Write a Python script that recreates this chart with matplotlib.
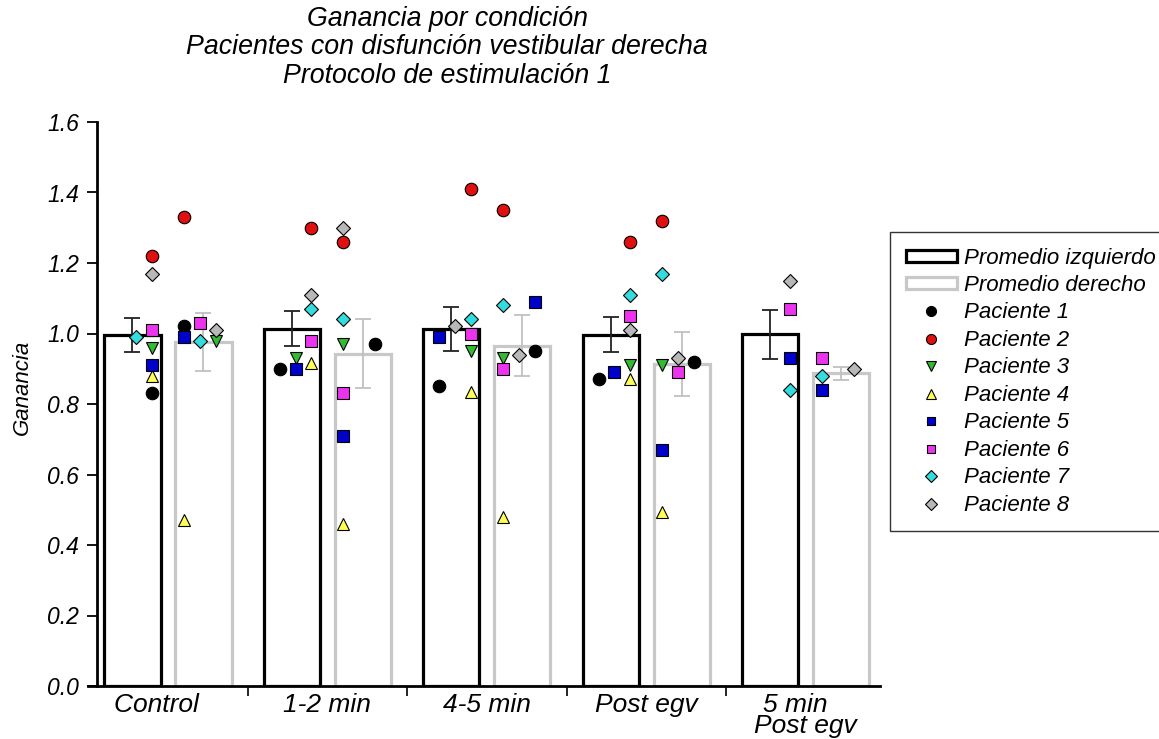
import numpy as np
import matplotlib.pyplot as plt
from matplotlib.patches import Patch
from matplotlib.lines import Line2D

plt.rcParams['font.family'] = ['Liberation Sans', 'DejaVu Sans']
plt.rcParams['font.style'] = 'italic'

nan = np.nan

# trailing spaces keep the labels slightly left of the group centre, as in the original
condiciones = ['Control   ', '1-2 min', '4-5 min', 'Post egv', '5 min   \nPost egv']
pacientes = ['Paciente 1', 'Paciente 2', 'Paciente 3', 'Paciente 4',
             'Paciente 5', 'Paciente 6', 'Paciente 7', 'Paciente 8']

# ganancia de cada paciente (filas) en cada condicion (columnas)
gan_izq = [
    [0.83, 0.90, 0.85, 0.87, nan],
    [1.22, 1.30, 1.41, 1.26, nan],
    [0.96, 0.93, 0.95, 0.91, nan],
    [0.88, 0.915, 0.835, 0.87, nan],
    [0.91, 0.90, 0.99, 0.89, 0.93],
    [1.01, 0.98, 1.00, 1.05, 1.07],
    [0.99, 1.07, 1.04, 1.11, 0.84],
    [1.17, 1.11, 1.02, 1.01, 1.15],
]
gan_der = [
    [1.02, 0.97, 0.95, 0.92, nan],
    [1.33, 1.26, 1.35, 1.32, nan],
    [0.98, 0.97, 0.93, 0.91, nan],
    [0.47, 0.46, 0.48, 0.495, nan],
    [0.99, 0.71, 1.09, 0.67, 0.84],
    [1.03, 0.83, 0.90, 0.89, 0.93],
    [0.98, 1.04, 1.08, 1.17, 0.88],
    [1.01, 1.30, 0.94, 0.93, 0.90],
]

# columna (desplazamiento) de cada punto para que no se tapen
col_izq = [
    [-1, -3, -3, -3, -1],
    [-1, -1, -1, -1, -1],
    [-1, -2, -1, -1, -1],
    [-1, -1, -1, -1, -1],
    [-1, -2, -3, -2, -1],
    [-1, -1, -1, -1, -1],
    [-2, -1, -1, -1, -1],
    [-1, -1, -2, -1, -1],
]
col_der = [
    [1, 3, 3, 3, 1],
    [1, 1, 1, 1, 1],
    [3, 1, 1, 1, 1],
    [1, 1, 1, 1, 1],
    [1, 1, 3, 1, 1],
    [2, 1, 1, 2, 1],
    [2, 1, 1, 1, 1],
    [3, 1, 2, 2, 3],
]

marcadores = ['o', 'o', 'v', '^', 's', 's', 'D', 'D']
colores = ['black', '#e01010', '#33bb33', '#ffff55', '#0000cc', '#ee33ee', '#33dddd', '#b8b8b8']
tamanos = [9, 9, 8.5, 8.5, 8, 8, 7.5, 7.5]

izq = np.array(gan_izq)
der = np.array(gan_der)
media_izq = np.nanmean(izq, axis=0)
media_der = np.nanmean(der, axis=0)
sem_izq = np.nanstd(izq, axis=0, ddof=1) / np.sqrt(np.sum(~np.isnan(izq), axis=0))
sem_der = np.nanstd(der, axis=0, ddof=1) / np.sqrt(np.sum(~np.isnan(der), axis=0))

x = np.arange(len(condiciones))
ancho = 0.352
desp = 0.2225
paso = 0.1
gris = '#c8c8c8'

fig = plt.figure(figsize=(11.59, 7.39), dpi=100)
ax = fig.add_axes([97 / 1159, 53 / 739, 783 / 1159, 564 / 739])

ax.bar(x - desp, media_izq, ancho, facecolor='white', edgecolor='black', linewidth=2.3, zorder=2)
ax.bar(x + desp, media_der, ancho, facecolor='white', edgecolor=gris, linewidth=2.3, zorder=2)
ax.errorbar(x - desp, media_izq, yerr=sem_izq, fmt='none', ecolor='#222222', elinewidth=1.3,
            capsize=6, capthick=1.3, zorder=3)
ax.errorbar(x + desp, media_der, yerr=sem_der, fmt='none', ecolor='#c0c0c0', elinewidth=1.3,
            capsize=6, capthick=1.3, zorder=3)

for i in range(len(pacientes)):
    ax.plot(x + np.array(col_izq[i]) * paso, izq[i], linestyle='none', marker=marcadores[i],
            markersize=tamanos[i], markerfacecolor=colores[i], markeredgecolor='black',
            markeredgewidth=0.8, zorder=4, clip_on=False)
    ax.plot(x + np.array(col_der[i]) * paso, der[i], linestyle='none', marker=marcadores[i],
            markersize=tamanos[i], markerfacecolor=colores[i], markeredgecolor='black',
            markeredgewidth=0.8, zorder=4, clip_on=False)

ax.set_xlim(-0.445, 4.465)
ax.set_ylim(0, 1.6)
ax.spines['top'].set_visible(False)
ax.spines['right'].set_visible(False)
ax.spines['left'].set_linewidth(2)
ax.spines['bottom'].set_linewidth(2)
ax.spines['bottom'].set_bounds(-0.5, 4.465)

ax.set_yticks(np.arange(0, 1.61, 0.2))
ax.set_yticklabels(['%.1f' % v for v in np.arange(0, 1.61, 0.2)], fontsize=16.5)
ax.tick_params(axis='y', direction='out', length=7, width=1.3, pad=6)
ax.set_xticks(x[:-1] + 0.5)
ax.set_xticklabels([])
ax.set_xticks(x, minor=True)
ax.set_xticklabels(condiciones, minor=True, fontsize=19, linespacing=0.85)
ax.tick_params(axis='x', which='major', direction='out', length=7, width=1.2)
ax.tick_params(axis='x', which='minor', length=0, pad=5)

ax.set_ylabel('Ganancia', fontsize=16)
ax.yaxis.set_label_coords(-0.082, 0.53)

fig.text(447 / 1159, 1 - 6 / 739,
         'Ganancia por condición\nPacientes con disfunción vestibular derecha\nProtocolo de estimulación 1',
         ha='center', va='top', fontsize=19.3, linespacing=1.12)

handles = [Patch(facecolor='white', edgecolor='black', linewidth=2.3),
           Patch(facecolor='white', edgecolor=gris, linewidth=2.3)]
for i in range(len(pacientes)):
    handles.append(Line2D([], [], linestyle='none', marker=marcadores[i],
                          markersize=tamanos[i] * 0.8, markerfacecolor=colores[i],
                          markeredgecolor='black', markeredgewidth=0.8))
labels = ['Promedio izquierdo', 'Promedio derecho'] + pacientes
leg = fig.legend(handles, labels, loc='upper left', bbox_to_anchor=(890 / 1159, 1 - 232 / 739),
                 fontsize=16, frameon=True, fancybox=False, edgecolor='black',
                 handlelength=2.3, handleheight=0.45, handletextpad=0.35,
                 labelspacing=0.29, borderpad=0.7, borderaxespad=0)
leg.get_frame().set_linewidth(1)

fig.savefig('out.png', dpi=100)
